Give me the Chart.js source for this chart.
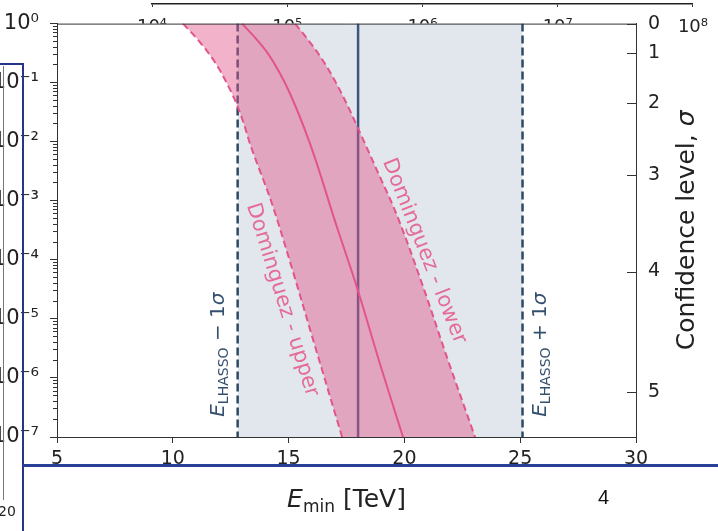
<!DOCTYPE html>
<html>
<head>
<meta charset="utf-8">
<script src="https://cdn.jsdelivr.net/npm/chart.js@4.4.0/dist/chart.umd.min.js"></script>
<style>
  html, body { margin: 0; padding: 0; background: #fff; }
  #wrap { position: relative; width: 718px; height: 531px; overflow: hidden; font-family: 'DejaVu Sans', sans-serif; }
  canvas { position: absolute; left: 0; top: 0; }
  .deco { position: absolute; }
</style>
</head>
<body>
<div id="wrap">
  <canvas id="topChart" width="718" height="46"></canvas>
  <canvas id="myChart" width="718" height="531"></canvas>
  <!-- slide decoration -->
  <div class="deco" style="left:0;top:63px;width:24px;height:2px;background:#26348a"></div>
  <div class="deco" style="left:22px;top:63px;width:2px;height:468px;background:#26348a"></div>
  <div class="deco" style="left:3px;top:66px;width:1px;height:434px;background:#777"></div>
  <div class="deco" style="left:-2px;top:503px;font-size:14px;color:#222">20</div>
  <div class="deco" style="left:23px;top:464px;width:695px;height:3px;background:#2a3f98"></div>
  <div class="deco" style="left:598px;top:486px;font:20px 'Liberation Sans', Arial, sans-serif;color:#111">4</div>
</div>
<script>
// Define the data
var eMin = 5, eMax = 30;          // x range, TeV
var pMin = 1e-7, pMax = 1;        // p-value range

// Dominguez EBL model curves (E_min [TeV], p-value)
var centreE = [12.99, 13.59, 14.11, 14.63, 15.06, 15.92, 17.09, 17.95, 18.99, 19.94];
var centreP = [1, 0.557, 0.311, 0.143, 0.0655, 9.35e-3, 3.56e-4, 3.44e-5, 1.52e-6, 1e-7];
var upperE  = [10.44, 11.04, 11.56, 11.99, 12.38, 12.73, 13.07, 13.33, 14.24, 15.12, 15.97, 17.31];
var upperP  = [1, 0.557, 0.311, 0.173, 0.090, 0.046, 0.020, 9.3e-3, 1.0e-3, 7.8e-5, 5.8e-6, 1e-7];
var lowerE  = [15.28, 15.80, 16.28, 16.75, 17.44, 18.04, 18.86, 19.59, 20.71, 21.88, 23.05];
var lowerP  = [1, 0.557, 0.311, 0.160, 0.050, 0.0155, 3.0e-3, 6.9e-4, 4.5e-5, 2.0e-6, 1e-7];

// LHAASO energy and its 1 sigma band
var eLhaaso = 18.0, eLow = 12.8, eHigh = 25.1;

// right axis: confidence level in sigma and matching p-values
var sigmaLevels = ['0', '1', '2', '3', '4', '5'];
var sigmaP = [1, 0.3173, 0.0455, 0.0027, 6.33e-5, 5.73e-7];

// strip of the neighbouring plot at the top
var topMin = 1e4, topMax = 1e8;
var topMarkE = [5.3e7, 8.2e7];
var topMarkColors = ['#2030d0', '#e020d8'];
// End defining data

var fontFam = "'DejaVu Sans', sans-serif";
var pinkLine = '#e2548a';
var pinkFill = 'rgba(226, 84, 138, 0.45)';
var grayFill = 'rgb(225, 231, 237)';
var dashBlue = '#2f4a64';

function pts(xs, ys) {
  return xs.map(function (x, i) { return {x: x, y: ys[i]}; });
}
function vline(e) {
  return [{x: e, y: pMax}, {x: e, y: pMin}];
}
function sup(n) {
  var m = {'-': '\u207B', '0': '\u2070', '1': '\u00B9', '2': '\u00B2', '3': '\u00B3', '4': '\u2074',
           '5': '\u2075', '6': '\u2076', '7': '\u2077', '8': '\u2078', '9': '\u2079'};
  return String(n).split('').map(function (c) { return m[c]; }).join('');
}
function isDecade(v) {
  var e = Math.log10(v);
  return Math.abs(e - Math.round(e)) < 1e-6;
}
function logTicks(lo, hi) {
  var t = [];
  for (var e = Math.round(Math.log10(lo)); e < Math.round(Math.log10(hi)); e++) {
    for (var k = 1; k <= 9; k++) t.push({value: k * Math.pow(10, e)});
  }
  t.push({value: hi});
  return t;
}

// draw text made of several runs (sub/superscripts, italics)
function drawRuns(ctx, runs, x, y, align) {
  var w = 0;
  runs.forEach(function (r) { ctx.font = r.font; w += ctx.measureText(r.t).width; });
  var cx = align === 'center' ? x - w / 2 : x;
  runs.forEach(function (r) {
    ctx.font = r.font;
    ctx.fillText(r.t, cx, y + (r.dy || 0));
    cx += ctx.measureText(r.t).width;
  });
}

var decor = {
  id: 'decor',
  beforeDraw: function (chart) {
    var a = chart.chartArea, ctx = chart.ctx;
    ctx.save();
    ctx.fillStyle = '#fff';
    ctx.fillRect(a.left, a.top, a.right - a.left, a.bottom - a.top);
    ctx.restore();
  },
  afterDraw: function (chart) {
    var a = chart.chartArea, ctx = chart.ctx;
    var xs = chart.scales.x, ys = chart.scales.y, y2 = chart.scales.y2;
    ctx.save();
    // top spine
    ctx.strokeStyle = '#333';
    ctx.lineWidth = 1;
    ctx.beginPath();
    ctx.moveTo(a.left, a.top + 0.5);
    ctx.lineTo(a.right, a.top + 0.5);
    ctx.stroke();
    // inward ticks of the sigma axis
    y2.ticks.forEach(function (t) {
      var py = Math.round(y2.getPixelForValue(t.value)) + 0.5;
      ctx.beginPath();
      ctx.moveTo(a.right - 9, py);
      ctx.lineTo(a.right, py);
      ctx.stroke();
    });

    ctx.textAlign = 'left';
    ctx.textBaseline = 'alphabetic';
    ctx.fillStyle = '#222';
    // x title
    drawRuns(ctx, [
      {t: 'E', font: 'italic 25px ' + fontFam},
      {t: 'min', font: '17px ' + fontFam, dy: 5},
      {t: ' [TeV]', font: '25px ' + fontFam}
    ], (a.left + a.right) / 2, 507, 'center');

    // right title
    ctx.save();
    ctx.translate(694, (a.top + a.bottom) / 2);
    ctx.rotate(-Math.PI / 2);
    drawRuns(ctx, [
      {t: 'Confidence level, ', font: '25px ' + fontFam},
      {t: '\u03C3', font: 'italic 25px ' + fontFam}
    ], 0, 0, 'center');
    ctx.restore();

    // E_LHASSO -/+ 1 sigma labels
    ctx.fillStyle = '#34506e';
    var labelP = 2.2e-7;
    [[eLow, -14, ' \u2212 1'], [eHigh, 23, ' + 1']].forEach(function (l) {
      ctx.save();
      ctx.translate(xs.getPixelForValue(l[0]) + l[1], ys.getPixelForValue(labelP));
      ctx.rotate(-Math.PI / 2);
      drawRuns(ctx, [
        {t: 'E', font: 'italic 20px ' + fontFam},
        {t: 'LHASSO', font: '14px ' + fontFam, dy: 4},
        {t: l[2], font: '20px ' + fontFam},
        {t: '\u03C3', font: 'italic 20px ' + fontFam}
      ], 0, 0, 'left');
      ctx.restore();
    });

    // Dominguez labels along the curves
    ctx.fillStyle = '#e56b98';
    ctx.font = '21px ' + fontFam;
    ctx.textAlign = 'center';
    ctx.textBaseline = 'middle';
    [['Dominguez - upper', 14.72, 2.1e-5, 72.6], ['Dominguez - lower', 20.85, 1.4e-4, 68.4]].forEach(function (l) {
      ctx.save();
      ctx.translate(xs.getPixelForValue(l[1]), ys.getPixelForValue(l[2]));
      ctx.rotate(l[3] * Math.PI / 180);
      ctx.fillText(l[0], 0, 0);
      ctx.restore();
    });
    ctx.restore();
  }
};

var ctx = document.getElementById('myChart').getContext('2d');
var myChart = new Chart(ctx, {
  type: 'line',
  data: {
    datasets: [
      {label: 'Dominguez', data: pts(centreE, centreP), borderColor: pinkLine, borderWidth: 2,
       cubicInterpolationMode: 'monotone', pointRadius: 0, fill: false, order: 1},
      {label: 'Dominguez - upper', data: pts(upperE, upperP), borderColor: pinkLine, borderWidth: 2,
       borderDash: [7, 4], cubicInterpolationMode: 'monotone', pointRadius: 0, fill: false, order: 2},
      {label: 'Dominguez - lower', data: pts(lowerE, lowerP), borderColor: pinkLine, borderWidth: 2,
       borderDash: [7, 4], cubicInterpolationMode: 'monotone', pointRadius: 0,
       fill: '-1', backgroundColor: pinkFill, order: 2},
      {label: 'E LHAASO', data: vline(eLhaaso), borderColor: '#3e5580', borderWidth: 2.5,
       pointRadius: 0, fill: false, order: 5},
      {label: 'E LHAASO + 1 sigma', data: vline(eHigh), borderColor: dashBlue, borderWidth: 2.5,
       borderDash: [8, 4], pointRadius: 0, fill: false, order: 5},
      {label: 'E LHAASO - 1 sigma', data: vline(eLow), borderColor: dashBlue, borderWidth: 2.5,
       borderDash: [8, 4], pointRadius: 0, fill: '-1', backgroundColor: grayFill, order: 5}
    ]
  },
  options: {
    responsive: false,
    animation: false,
    events: [],
    indexAxis: 'y',
    layout: {padding: {top: 23, left: 0, right: 0, bottom: 0}},
    plugins: {legend: {display: false}, tooltip: {enabled: false}},
    scales: {
      x: {
        type: 'linear', position: 'bottom', min: eMin, max: eMax,
        ticks: {stepSize: 5, font: {family: fontFam, size: 19}, color: '#222', padding: 5, maxRotation: 0},
        grid: {drawOnChartArea: false, tickLength: 6, color: '#333'},
        border: {color: '#333', width: 1},
        afterFit: function (s) { s.height = 94; }
      },
      y: {
        type: 'logarithmic', position: 'left', min: pMin, max: pMax,
        afterBuildTicks: function (s) { s.ticks = logTicks(pMin, pMax); },
        ticks: {
          autoSkip: false, font: {family: fontFam, size: 21}, color: '#222', padding: 11,
          callback: function (v) { return isDecade(v) ? '10' + sup(Math.round(Math.log10(v))) : ''; }
        },
        grid: {
          drawOnChartArea: false, tickLength: 7, color: '#333',
          tickBorderDash: function (c) { return (c.tick && isDecade(c.tick.value)) ? [] : [0, 3, 4, 10]; }
        },
        border: {color: '#333', width: 1},
        afterFit: function (s) { s.width = 57; }
      },
      y2: {
        type: 'logarithmic', position: 'right', min: pMin, max: pMax,
        afterBuildTicks: function (s) { s.ticks = sigmaP.map(function (v) { return {value: v}; }); },
        ticks: {
          autoSkip: false, font: {family: fontFam, size: 19}, color: '#222', padding: 12,
          callback: function (v, i) { return sigmaLevels[i]; }
        },
        grid: {drawOnChartArea: false, drawTicks: false},
        border: {color: '#333', width: 1},
        afterFit: function (s) { s.width = 82; }
      }
    }
  },
  plugins: [decor]
});

// neighbouring plot's axis peeking in at the top
var topChart = new Chart(document.getElementById('topChart').getContext('2d'), {
  type: 'scatter',
  data: {
    datasets: [{
      data: topMarkE.map(function (e) { return {x: e, y: 0.5}; }),
      pointBackgroundColor: topMarkColors, pointBorderWidth: 0, pointRadius: 2.5
    }]
  },
  options: {
    responsive: false,
    animation: false,
    events: [],
    layout: {padding: {left: 152, right: 15, top: 0, bottom: 0}},
    plugins: {legend: {display: false}, tooltip: {enabled: false}},
    scales: {
      x: {
        type: 'logarithmic', min: topMin, max: topMax,
        afterBuildTicks: function (s) { s.ticks = logTicks(topMin, topMax); },
        ticks: {
          autoSkip: false, maxRotation: 0, font: {family: fontFam, size: 18}, color: '#222', padding: 10,
          callback: function (v) { return isDecade(v) ? '10' + sup(Math.round(Math.log10(v))) : ''; }
        },
        grid: {color: '#333', tickLength: 3,
               tickColor: function (c) { return (c.tick && isDecade(c.tick.value)) ? '#333' : 'rgba(0,0,0,0)'; }},
        border: {color: '#222', width: 1.5},
        afterFit: function (s) { s.height = 42; }
      },
      y: {display: false, min: 0, max: 1}
    }
  }
});
</script>
</body>
</html>
